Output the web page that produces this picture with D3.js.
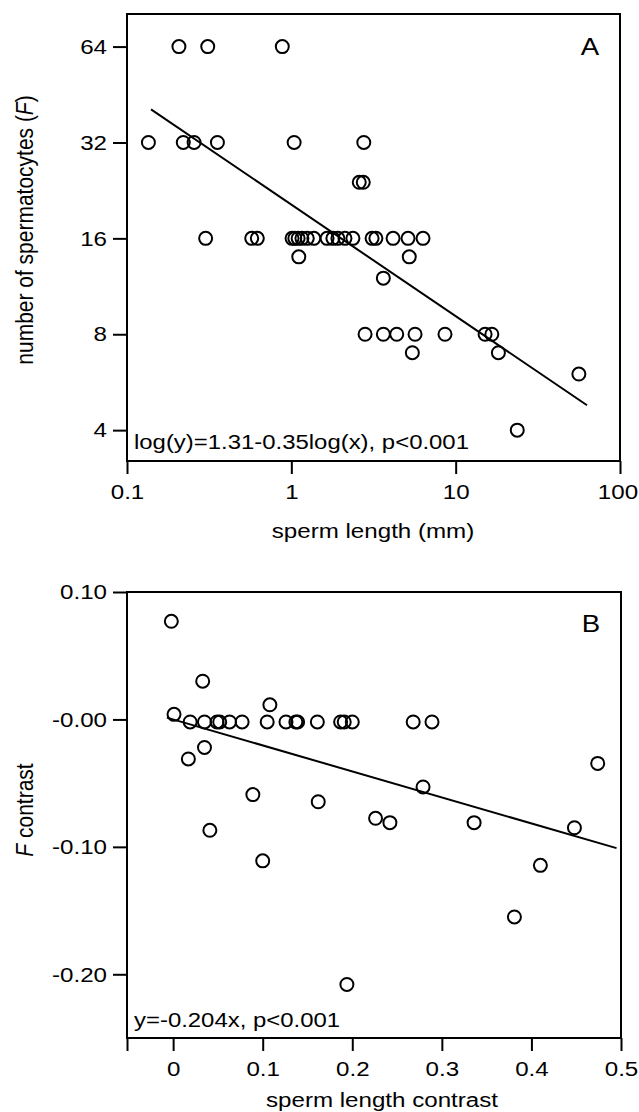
<!DOCTYPE html>
<html>
<head>
<meta charset="utf-8">
<script src="https://cdn.jsdelivr.net/npm/d3@7"></script>
<style>
  html, body { margin: 0; padding: 0; background: #fff; }
  svg { display: block; }
  text { font-family: "Liberation Sans", Arial, Helvetica, sans-serif; fill: #000; }
</style>
</head>
<body>
<svg id="chart" width="639" height="1112"></svg>
<script>
// ---------------- DATA ----------------
// Panel A: sperm length (mm) vs number of spermatocytes (F)
const lengthA = [
  0.207, 0.310, 0.881,
  0.135, 0.220, 0.256, 0.355, 1.04, 2.76,
  2.59, 2.74,
  0.301, 0.574, 0.621,
  1.01, 1.05, 1.10, 1.16, 1.25, 1.37,
  1.65, 1.79, 1.92, 2.12, 2.37,
  3.10, 3.27, 4.16, 5.13, 6.33,
  1.11, 5.22,
  3.63,
  2.81, 3.63, 4.38, 5.66, 8.61, 15.1, 16.6,
  5.45, 18.2,
  56.2,
  23.7
];
const spermatocytesA = [
  64, 64, 64,
  32, 32, 32, 32, 32, 32,
  24, 24,
  16, 16, 16,
  16, 16, 16, 16, 16, 16,
  16, 16, 16, 16, 16,
  16, 16, 16, 16, 16,
  14, 14,
  12,
  8, 8, 8, 8, 8, 8, 8,
  7, 7,
  6,
  4
];
const xTicksA = [0.1, 1, 10, 100];
const xTickLabelsA = ["0.1", "1", "10", "100"];
const yTicksA = [4, 8, 16, 32, 64];
const yTickLabelsA = ["4", "8", "16", "32", "64"];
const fitA = { intercept: 1.31, slope: -0.35, xFrom: 0.14, xTo: 63 };

// Panel B: sperm length contrast vs F contrast
const lengthContrastB = [
  -0.002, 0.033, 0.001, 0.108,
  0.019, 0.035, 0.049, 0.052, 0.063, 0.077, 0.105, 0.126, 0.137, 0.139,
  0.161, 0.187, 0.191, 0.200, 0.268, 0.289,
  0.035, 0.017, 0.089, 0.474, 0.279, 0.041, 0.100, 0.162, 0.226, 0.242,
  0.336, 0.448, 0.410, 0.381, 0.194
];
const fContrastB = [
  0.077, 0.030, 0.004, 0.0115,
  -0.002, -0.002, -0.002, -0.002, -0.002, -0.002, -0.002, -0.002, -0.002, -0.002,
  -0.002, -0.002, -0.002, -0.002, -0.002, -0.002,
  -0.022, -0.031, -0.059, -0.0345, -0.053, -0.087, -0.111, -0.0646, -0.0776, -0.081,
  -0.081, -0.085, -0.1145, -0.155, -0.208
];
const xTicksB = [0, 0.1, 0.2, 0.3, 0.4, 0.5];
const xTickLabelsB = ["0", "0.1", "0.2", "0.3", "0.4", "0.5"];
const yTicksB = [0.10, 0.00, -0.10, -0.20];
const yTickLabelsB = ["0.10", "-0.00", "-0.10", "-0.20"];
const fitB = { slope: -0.204, xFrom: -0.007, xTo: 0.495 };

// ---------------- DRAWING ----------------
const svg = d3.select("#chart");
const SX = 1.15;          // horizontal glyph stretch of the original
const FS = 21;            // base font size

function label(g, x, y, parts, opts = {}) {
  const t = g.append("text")
    .attr("transform", `translate(${x},${y}) scale(${SX},1)` + (opts.rotate ? ` rotate(${opts.rotate})` : ""))
    .attr("text-anchor", opts.anchor || "start")
    .attr("font-size", opts.size || FS);
  parts.forEach(p => {
    const s = t.append("tspan").text(p.t);
    if (p.italic) s.attr("font-style", "italic");
  });
  return t;
}

function styleAxis(g) {
  g.selectAll(".domain").remove();
  g.selectAll(".tick line").attr("stroke", "#000").attr("stroke-width", 2);
  g.selectAll(".tick text")
    .attr("font-size", FS)
    .attr("font-family", '"Liberation Sans", Arial, Helvetica, sans-serif')
    .attr("fill", "#000")
    .each(function () {
      const el = d3.select(this);
      const x = +el.attr("x") || 0;
      el.attr("x", x / SX).attr("transform", `scale(${SX},1)`);
    });
}

// ---------- Panel A ----------
const A = { left: 127, right: 620, top: 14, bottom: 461 };
const xA = d3.scaleLog().domain([0.1, 100]).range([A.left, A.right]);
const yA = d3.scaleLog().base(2).domain([3.2, 81]).range([A.bottom, A.top]);

const gA = svg.append("g");

gA.append("g")
  .attr("transform", `translate(0,${A.bottom})`)
  .call(d3.axisBottom(xA).tickValues(xTicksA).tickFormat((d, i) => xTickLabelsA[i])
    .tickSizeInner(13).tickSizeOuter(0).tickPadding(10))
  .call(g => styleAxis(g))
  .call(g => g.selectAll(".tick:last-of-type text").attr("x", -2.5 / SX));

gA.append("g")
  .attr("transform", `translate(${A.left},0)`)
  .call(d3.axisLeft(yA).tickValues(yTicksA).tickFormat((d, i) => yTickLabelsA[i])
    .tickSizeInner(14).tickSizeOuter(0).tickPadding(6))
  .call(g => styleAxis(g));

gA.append("rect")
  .attr("x", A.left).attr("y", A.top)
  .attr("width", A.right - A.left).attr("height", A.bottom - A.top)
  .attr("fill", "none").attr("stroke", "#000").attr("stroke-width", 2);

const fitAPts = [fitA.xFrom, fitA.xTo].map(x => [x, Math.pow(10, fitA.intercept + fitA.slope * Math.log10(x))]);
gA.append("path")
  .attr("d", d3.line().x(d => xA(d[0])).y(d => yA(d[1]))(fitAPts))
  .attr("fill", "none").attr("stroke", "#000").attr("stroke-width", 2);

gA.append("g").selectAll("circle")
  .data(lengthA.map((x, i) => [x, spermatocytesA[i]]))
  .join("circle")
  .attr("cx", d => xA(d[0])).attr("cy", d => yA(d[1])).attr("r", 6.5)
  .attr("fill", "none").attr("stroke", "#000").attr("stroke-width", 2);

label(gA, 590, 55, [{ t: "A" }], { anchor: "middle", size: 24 });
label(gA, 134, 449, [{ t: "log(y)=1.31-0.35log(x), p<0.001" }], { size: 20.8 });
label(gA, 373, 538, [{ t: "sperm length (mm)" }], { anchor: "middle" });
label(gA, 33, 230, [{ t: "number of spermatocytes (" }, { t: "F", italic: true }, { t: ")" }], { anchor: "middle", rotate: -90 });

// ---------- Panel B ----------
const B = { left: 127, right: 621, top: 592, bottom: 1038 };
const xB = d3.scaleLinear().domain([-0.0515, 0.5]).range([B.left, B.right]);
const yB = d3.scaleLinear().domain([-0.25, 0.10]).range([B.bottom, B.top]);

const gB = svg.append("g");

gB.append("g")
  .attr("transform", `translate(0,${B.bottom})`)
  .call(d3.axisBottom(xB).tickValues([xB.domain()[0]].concat(xTicksB))
    .tickFormat((d, i) => i === 0 ? "" : xTickLabelsB[i - 1])
    .tickSizeInner(13).tickSizeOuter(0).tickPadding(10))
  .call(g => styleAxis(g));

gB.append("g")
  .attr("transform", `translate(${B.left},0)`)
  .call(d3.axisLeft(yB).tickValues(yTicksB).tickFormat((d, i) => yTickLabelsB[i])
    .tickSizeInner(14).tickSizeOuter(0).tickPadding(6))
  .call(g => styleAxis(g));

gB.append("rect")
  .attr("x", B.left).attr("y", B.top)
  .attr("width", B.right - B.left).attr("height", B.bottom - B.top)
  .attr("fill", "none").attr("stroke", "#000").attr("stroke-width", 2);

const fitBPts = [fitB.xFrom, fitB.xTo].map(x => [x, fitB.slope * x]);
gB.append("path")
  .attr("d", d3.line().x(d => xB(d[0])).y(d => yB(d[1]))(fitBPts))
  .attr("fill", "none").attr("stroke", "#000").attr("stroke-width", 2);

gB.append("g").selectAll("circle")
  .data(lengthContrastB.map((x, i) => [x, fContrastB[i]]))
  .join("circle")
  .attr("cx", d => xB(d[0])).attr("cy", d => yB(d[1])).attr("r", 6.5)
  .attr("fill", "none").attr("stroke", "#000").attr("stroke-width", 2);

label(gB, 591, 632, [{ t: "B" }], { anchor: "middle", size: 24 });
label(gB, 134, 1027, [{ t: "y=-0.204x, p<0.001" }], { size: 20.8 });
label(gB, 382, 1107, [{ t: "sperm length contrast" }], { anchor: "middle" });
label(gB, 33, 810, [{ t: "F", italic: true }, { t: " contrast" }], { anchor: "middle", rotate: -90 });
</script>
</body>
</html>
